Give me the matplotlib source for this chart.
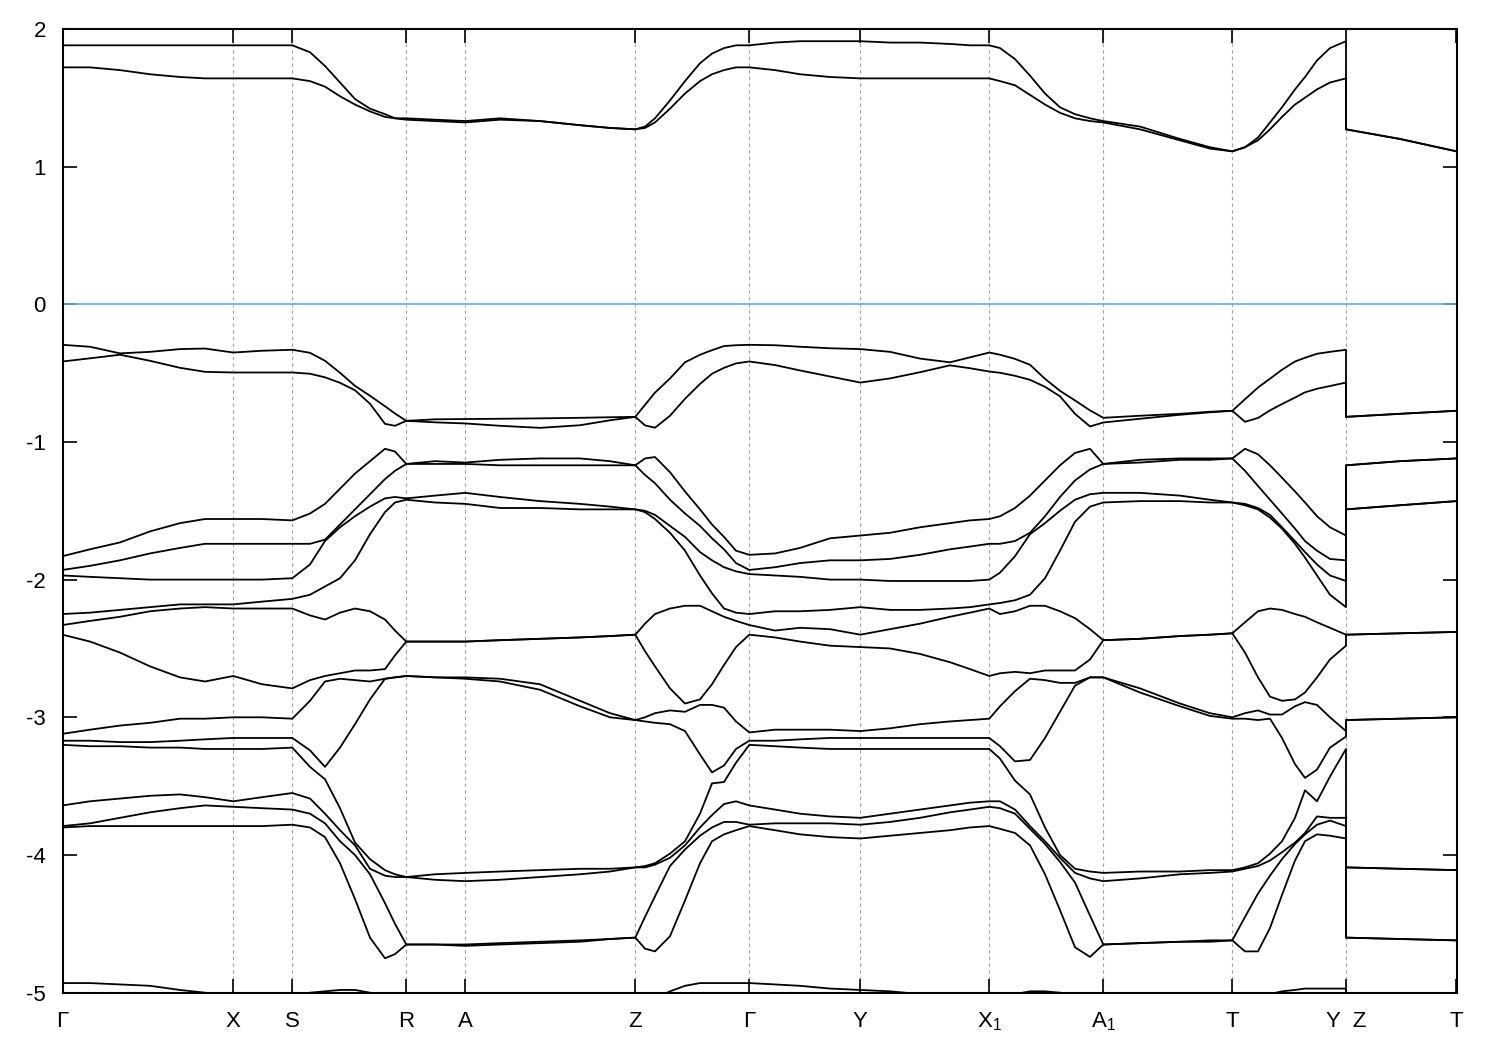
import numpy as np
import matplotlib
matplotlib.use("Agg")
import matplotlib.pyplot as plt

plt.rcParams['font.family'] = ['Liberation Sans', 'DejaVu Sans']
plt.rcParams['mathtext.default'] = 'regular'
plt.rcParams['axes.unicode_minus'] = False

# k-path positions of the high-symmetry points
sym_k = [0.0, 1.708, 2.298, 3.438, 4.028, 5.728, 6.868, 7.978, 9.268, 10.408, 11.698, 12.835, 13.94]
sym_labels = ['Γ', 'X', 'S', 'R', 'A', 'Z', 'Γ', 'Y', 'X$_1$', 'A$_1$', 'T', 'Y  Z', 'T']

# sampled k points along the path (Y and Z share the same position)
kpts = [0.0, 0.275, 0.575, 0.875, 1.175, 1.425, 1.708, 1.995, 2.298,
        2.475, 2.625, 2.775, 2.925, 3.075, 3.225, 3.325, 3.438,
        3.725, 4.028, 4.375, 4.775, 5.175, 5.475, 5.728,
        5.825, 5.925, 6.075, 6.225, 6.375, 6.495, 6.615, 6.735, 6.868,
        7.125, 7.375, 7.675, 7.978, 8.275, 8.575, 8.875, 9.075, 9.268,
        9.375, 9.525, 9.675, 9.825, 9.975, 10.125, 10.275, 10.408,
        10.775, 11.175, 11.475, 11.698,
        11.825, 11.955, 12.075, 12.195, 12.325, 12.425, 12.545, 12.675, 12.835,
        12.835, 13.375, 13.94]

# conduction bands (eV)
cb1 = [1.88, 1.88, 1.88, 1.88, 1.88, 1.88, 1.88, 1.88, 1.88,
       1.83, 1.73, 1.61, 1.49, 1.42, 1.38, 1.35, 1.35,
       1.34, 1.33, 1.35, 1.33, 1.30, 1.28, 1.27,
       1.29, 1.35, 1.48, 1.62, 1.75, 1.82, 1.86, 1.88, 1.88,
       1.90, 1.91, 1.91, 1.91, 1.90, 1.90, 1.89, 1.88, 1.88,
       1.86, 1.78, 1.66, 1.53, 1.43, 1.38, 1.35, 1.33,
       1.29, 1.20, 1.14, 1.11,
       1.14, 1.21, 1.32, 1.43, 1.56, 1.65, 1.77, 1.86, 1.91,
       1.27, 1.20, 1.11]
cb2 = [1.72, 1.72, 1.70, 1.67, 1.65, 1.64, 1.64, 1.64, 1.64,
       1.62, 1.58, 1.51, 1.45, 1.40, 1.36, 1.35, 1.34,
       1.33, 1.32, 1.34, 1.33, 1.30, 1.28, 1.27,
       1.28, 1.32, 1.42, 1.53, 1.62, 1.67, 1.70, 1.72, 1.72,
       1.70, 1.67, 1.65, 1.64, 1.64, 1.64, 1.64, 1.64, 1.64,
       1.62, 1.59, 1.52, 1.45, 1.39, 1.35, 1.33, 1.32,
       1.27, 1.19, 1.13, 1.11,
       1.14, 1.19, 1.27, 1.36, 1.45, 1.50, 1.56, 1.61, 1.64,
       1.27, 1.20, 1.11]

# valence bands (eV)
vb_u = [-0.295, -0.309, -0.357, -0.346, -0.326, -0.322, -0.351, -0.338, -0.331,
        -0.353, -0.411, -0.498, -0.593, -0.665, -0.741, -0.794, -0.847,
        -0.836, -0.834, -0.832, -0.829, -0.825, -0.821, -0.818,
        -0.731, -0.642, -0.539, -0.422, -0.367, -0.334, -0.304, -0.298, -0.295,
        -0.298, -0.309, -0.320, -0.326, -0.346, -0.395, -0.422, -0.386, -0.351,
        -0.367, -0.397, -0.440, -0.542, -0.629, -0.699, -0.771, -0.825,
        -0.810, -0.796, -0.781, -0.774,
        -0.690, -0.605, -0.541, -0.476, -0.416, -0.389, -0.360, -0.346, -0.331,
        -0.818, -0.796, -0.774]
vb_l = [-0.416, -0.393, -0.367, -0.411, -0.462, -0.491, -0.496, -0.496, -0.496,
        -0.505, -0.531, -0.571, -0.625, -0.723, -0.869, -0.883, -0.847,
        -0.858, -0.866, -0.883, -0.898, -0.879, -0.843, -0.818,
        -0.880, -0.897, -0.810, -0.687, -0.579, -0.505, -0.462, -0.430, -0.416,
        -0.442, -0.481, -0.525, -0.569, -0.539, -0.494, -0.444, -0.465, -0.489,
        -0.498, -0.520, -0.549, -0.600, -0.669, -0.796, -0.888, -0.859,
        -0.832, -0.803, -0.785, -0.774,
        -0.854, -0.826, -0.771, -0.725, -0.678, -0.640, -0.614, -0.594, -0.569,
        -0.818, -0.796, -0.774]
vb_a = [-1.83, -1.78, -1.73, -1.65, -1.59, -1.56, -1.56, -1.56, -1.57,
        -1.52, -1.45, -1.34, -1.23, -1.14, -1.05, -1.07, -1.16,
        -1.14, -1.15, -1.13, -1.12, -1.12, -1.14, -1.17,
        -1.12, -1.11, -1.22, -1.36, -1.49, -1.60, -1.69, -1.79, -1.82,
        -1.81, -1.77, -1.70, -1.68, -1.66, -1.62, -1.59, -1.57, -1.56,
        -1.54, -1.48, -1.39, -1.28, -1.17, -1.08, -1.05, -1.16,
        -1.13, -1.12, -1.12, -1.12,
        -1.05, -1.09, -1.17, -1.26, -1.36, -1.44, -1.54, -1.62, -1.68,
        -1.17, -1.14, -1.12]
vb_b = [-1.93, -1.90, -1.86, -1.81, -1.77, -1.74, -1.74, -1.74, -1.74,
        -1.74, -1.71, -1.62, -1.54, -1.47, -1.41, -1.40, -1.41,
        -1.39, -1.37, -1.40, -1.43, -1.45, -1.47, -1.49,
        -1.50, -1.53, -1.61, -1.69, -1.80, -1.86, -1.91, -1.94, -1.96,
        -1.97, -1.98, -2.00, -2.00, -2.01, -2.01, -2.01, -2.01, -2.00,
        -1.95, -1.83, -1.66, -1.54, -1.40, -1.28, -1.20, -1.16,
        -1.15, -1.13, -1.13, -1.12,
        -1.21, -1.32, -1.42, -1.52, -1.63, -1.72, -1.79, -1.85, -1.86,
        -1.17, -1.14, -1.12]
vb_c = [-1.97, -1.98, -1.99, -2.00, -2.00, -2.00, -2.00, -2.00, -1.99,
        -1.89, -1.72, -1.60, -1.49, -1.38, -1.27, -1.21, -1.16,
        -1.16, -1.16, -1.17, -1.17, -1.17, -1.17, -1.17,
        -1.24, -1.30, -1.42, -1.52, -1.61, -1.70, -1.78, -1.88, -1.93,
        -1.91, -1.88, -1.86, -1.86, -1.85, -1.82, -1.78, -1.76, -1.74,
        -1.74, -1.72, -1.67, -1.59, -1.50, -1.42, -1.38, -1.37,
        -1.37, -1.39, -1.42, -1.44,
        -1.45, -1.48, -1.53, -1.62, -1.72, -1.80, -1.89, -1.97, -2.01,
        -1.49, -1.46, -1.43]
vb_d = [-2.25, -2.24, -2.22, -2.20, -2.18, -2.18, -2.18, -2.16, -2.14,
        -2.11, -2.05, -1.99, -1.86, -1.67, -1.51, -1.44, -1.42,
        -1.44, -1.45, -1.48, -1.48, -1.49, -1.49, -1.49,
        -1.51, -1.56, -1.66, -1.79, -1.97, -2.10, -2.21, -2.24, -2.25,
        -2.23, -2.23, -2.22, -2.20, -2.22, -2.22, -2.21, -2.20, -2.18,
        -2.17, -2.15, -2.11, -1.99, -1.79, -1.58, -1.47, -1.44,
        -1.43, -1.43, -1.44, -1.44,
        -1.46, -1.49, -1.55, -1.63, -1.74, -1.84, -1.97, -2.11, -2.20,
        -1.49, -1.46, -1.43]
vb_e = [-2.33, -2.30, -2.27, -2.23, -2.21, -2.20, -2.21, -2.21, -2.21,
        -2.26, -2.29, -2.24, -2.21, -2.23, -2.29, -2.37, -2.45,
        -2.45, -2.45, -2.44, -2.43, -2.42, -2.41, -2.40,
        -2.32, -2.25, -2.21, -2.19, -2.19, -2.23, -2.27, -2.30, -2.33,
        -2.37, -2.35, -2.36, -2.40, -2.36, -2.32, -2.27, -2.24, -2.21,
        -2.25, -2.23, -2.19, -2.19, -2.23, -2.28, -2.36, -2.44,
        -2.43, -2.41, -2.40, -2.39,
        -2.31, -2.23, -2.21, -2.22, -2.25, -2.27, -2.31, -2.35, -2.40,
        -2.40, -2.39, -2.38]
vb_f = [-2.40, -2.45, -2.53, -2.63, -2.71, -2.74, -2.70, -2.76, -2.79,
        -2.73, -2.70, -2.68, -2.66, -2.66, -2.65, -2.55, -2.45,
        -2.45, -2.45, -2.44, -2.43, -2.42, -2.41, -2.40,
        -2.52, -2.63, -2.79, -2.90, -2.87, -2.76, -2.62, -2.49, -2.40,
        -2.42, -2.45, -2.48, -2.49, -2.50, -2.54, -2.60, -2.65, -2.70,
        -2.68, -2.67, -2.68, -2.66, -2.66, -2.66, -2.58, -2.44,
        -2.43, -2.41, -2.40, -2.39,
        -2.53, -2.71, -2.85, -2.88, -2.87, -2.82, -2.71, -2.58, -2.48,
        -2.40, -2.39, -2.38]
vb_m1 = [-3.12, -3.09, -3.06, -3.04, -3.01, -3.01, -3.00, -3.00, -3.01,
         -2.88, -2.74, -2.72, -2.73, -2.74, -2.72, -2.71, -2.70,
         -2.71, -2.71, -2.72, -2.76, -2.88, -2.97, -3.02,
         -3.00, -2.97, -2.95, -2.96, -2.91, -2.91, -2.93, -3.03, -3.11,
         -3.09, -3.09, -3.09, -3.10, -3.08, -3.05, -3.03, -3.02, -3.01,
         -2.92, -2.81, -2.72, -2.73, -2.75, -2.75, -2.71, -2.71,
         -2.79, -2.90, -2.97, -3.00,
         -3.01, -3.02, -3.01, -2.98, -2.92, -2.89, -2.91, -3.00, -3.10,
         -3.02, -3.01, -3.00]
vb_m2 = [-3.17, -3.17, -3.18, -3.18, -3.17, -3.16, -3.15, -3.15, -3.15,
         -3.24, -3.36, -3.22, -3.05, -2.87, -2.72, -2.71, -2.70,
         -2.71, -2.72, -2.74, -2.80, -2.92, -3.00, -3.02,
         -3.03, -3.04, -3.05, -3.10, -3.27, -3.40, -3.35, -3.23, -3.17,
         -3.17, -3.16, -3.15, -3.15, -3.15, -3.15, -3.15, -3.15, -3.15,
         -3.21, -3.32, -3.31, -3.15, -2.96, -2.77, -2.71, -2.71,
         -2.82, -2.92, -2.99, -3.01,
         -2.97, -2.95, -2.98, -3.15, -3.34, -3.44, -3.38, -3.22, -3.14,
         -3.02, -3.01, -3.00]
vb_m3 = [-3.20, -3.21, -3.21, -3.22, -3.22, -3.23, -3.23, -3.23, -3.22,
         -3.36, -3.45, -3.66, -3.91, -4.14, -4.35, -4.50, -4.65,
         -4.65, -4.65, -4.64, -4.63, -4.62, -4.61, -4.60,
         -4.45, -4.30, -4.08, -3.90, -3.70, -3.48, -3.47, -3.33, -3.20,
         -3.21, -3.22, -3.23, -3.23, -3.23, -3.23, -3.23, -3.23, -3.23,
         -3.30, -3.46, -3.56, -3.80, -4.02, -4.20, -4.44, -4.65,
         -4.64, -4.63, -4.62, -4.62,
         -4.09, -4.06, -3.99, -3.90, -3.73, -3.53, -3.61, -3.43, -3.23,
         -4.09, -4.10, -4.11]
vb_n1 = [-3.64, -3.61, -3.59, -3.57, -3.56, -3.58, -3.61, -3.58, -3.55,
         -3.59, -3.70, -3.82, -3.93, -4.03, -4.11, -4.14, -4.16,
         -4.14, -4.13, -4.12, -4.11, -4.10, -4.10, -4.09,
         -4.08, -4.06, -3.99, -3.93, -3.80, -3.71, -3.63, -3.61, -3.64,
         -3.67, -3.70, -3.72, -3.73, -3.70, -3.67, -3.64, -3.62, -3.61,
         -3.61, -3.67, -3.79, -3.90, -4.00, -4.10, -4.12, -4.13,
         -4.12, -4.12, -4.11, -4.11,
         -4.10, -4.08, -4.04, -3.98, -3.91, -3.85, -3.78, -3.75, -3.73,
         -4.09, -4.10, -4.11]
vb_n2 = [-3.79, -3.77, -3.73, -3.69, -3.66, -3.64, -3.65, -3.66, -3.67,
         -3.70, -3.77, -3.90, -4.00, -4.10, -4.15, -4.16, -4.16,
         -4.18, -4.19, -4.18, -4.16, -4.14, -4.12, -4.09,
         -4.09, -4.07, -4.02, -3.96, -3.86, -3.80, -3.76, -3.76, -3.78,
         -3.77, -3.77, -3.77, -3.78, -3.76, -3.73, -3.69, -3.67, -3.65,
         -3.66, -3.70, -3.81, -3.92, -4.05, -4.13, -4.17, -4.19,
         -4.17, -4.14, -4.13, -4.12,
         -4.45, -4.28, -4.15, -4.03, -3.92, -3.84, -3.72, -3.73, -3.79,
         -4.60, -4.61, -4.62]
vb_n3 = [-3.80, -3.79, -3.79, -3.79, -3.79, -3.79, -3.79, -3.79, -3.78,
         -3.80, -3.87, -4.06, -4.32, -4.60, -4.75, -4.72, -4.65,
         -4.65, -4.66, -4.65, -4.64, -4.63, -4.61, -4.60,
         -4.68, -4.70, -4.59, -4.33, -4.06, -3.90, -3.85, -3.82, -3.79,
         -3.82, -3.85, -3.87, -3.88, -3.86, -3.84, -3.82, -3.80, -3.79,
         -3.81, -3.84, -3.93, -4.14, -4.40, -4.67, -4.74, -4.65,
         -4.64, -4.63, -4.63, -4.62,
         -4.70, -4.70, -4.53, -4.29, -4.04, -3.90, -3.85, -3.86, -3.88,
         -4.60, -4.61, -4.62]
vb_z = [-4.93, -4.93, -4.94, -4.95, -4.98, -5.00, -5.02, -5.02, -5.02,
        -5.00, -4.99, -4.98, -4.98, -5.00, -5.03, -5.04, -5.06,
        -5.08, -5.10, -5.11, -5.12, -5.12, -5.11, -5.10,
        -5.07, -5.04, -4.99, -4.95, -4.93, -4.93, -4.93, -4.93, -4.93,
        -4.94, -4.95, -4.97, -4.98, -4.99, -5.01, -5.03, -5.04, -5.03,
        -5.02, -5.01, -4.99, -4.99, -5.00, -5.02, -5.04, -5.07,
        -5.10, -5.10, -5.10, -5.08,
        -5.06, -5.03, -5.01, -4.99, -4.98, -4.97, -4.97, -4.97, -4.97,
        -5.13, -5.13, -5.13]

k = np.array(kpts)
cond = np.sort(np.array([cb1, cb2]), axis=0)
val = np.sort(np.array([vb_u, vb_l, vb_a, vb_b, vb_c, vb_d, vb_e, vb_f,
                        vb_m1, vb_m2, vb_m3, vb_n1, vb_n2, vb_n3, vb_z]), axis=0)

fig = plt.figure(figsize=(15, 10.5), dpi=100)
ax = fig.add_axes([0.04167, 0.05457, 0.92933, 0.9180])

for x in sym_k[1:-1]:
    ax.axvline(x, color='#a0a0a0', lw=0.8, ls=(0, (3, 3)), zorder=1)
ax.axhline(0, color='#56b4e9', lw=1.2, zorder=2)

for band in list(cond) + list(val):
    ax.plot(k, band, color='black', lw=1.3, zorder=3, solid_joinstyle='round')

ax.set_xlim(0, 13.94)
ax.set_ylim(-5, 2)
ax.set_xticks(sym_k)
ax.set_xticklabels(sym_labels)
ax.set_yticks(range(-5, 3))
ax.set_yticklabels([str(v) for v in range(-5, 3)])
ax.tick_params(direction='in', length=10, width=1.2, labelsize=16,
               top=True, right=True)
ax.tick_params(axis='y', pad=12)
ax.tick_params(axis='x', pad=13)
for s in ax.spines.values():
    s.set_linewidth(1.5)

fig.savefig('out.png', dpi=100)
